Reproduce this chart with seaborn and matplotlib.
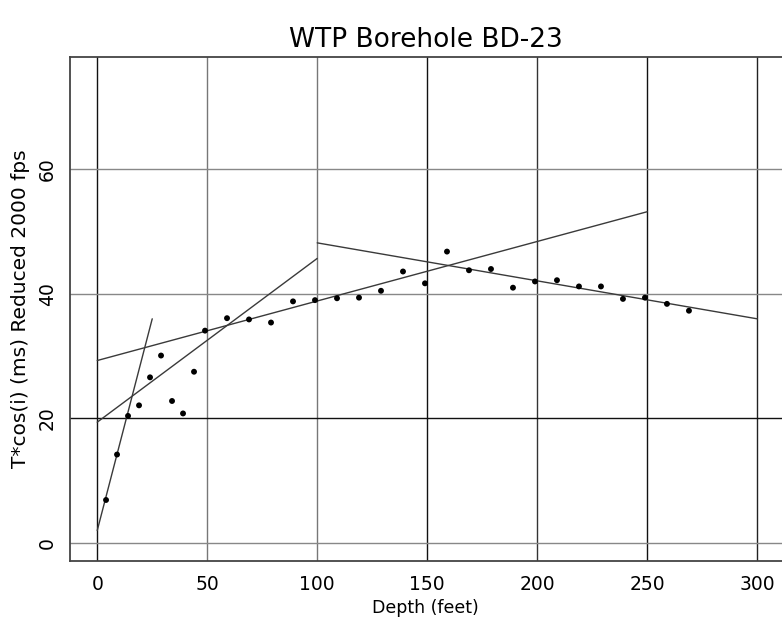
import matplotlib
matplotlib.use("Agg")
import matplotlib.pyplot as plt
import seaborn as sns
import pandas as pd

# Measured points: depth (feet) vs T*cos(i) reduced at 2000 fps (ms)
depth = [4, 9, 14, 19, 24, 29, 34, 39, 44, 49, 59, 69, 79, 89, 99,
         109, 119, 129, 139, 149, 159, 169, 179, 189, 199, 209, 219,
         229, 239, 249, 259, 269]
time_ms = [6.9, 14.2, 20.4, 22.1, 26.6, 30.1, 22.8, 20.8, 27.5, 34.1,
           36.1, 35.9, 35.4, 38.8, 39.0, 39.3, 39.4, 40.5, 43.6, 41.7,
           46.8, 43.8, 44.0, 41.0, 42.0, 42.2, 41.2, 41.2, 39.2, 39.4,
           38.4, 37.3]

# Fitted segments (start / end depth and time)
fit_names = ['layer 1', 'layer 2', 'layer 3', 'layer 4']
fit_x0 = [0, 0, 0, 100]
fit_x1 = [25, 100, 250, 300]
fit_y0 = [2.0, 19.4, 29.3, 48.2]
fit_y1 = [36.0, 45.7, 53.2, 36.0]

x_ticks = [0, 50, 100, 150, 200, 250, 300]
y_ticks = [0, 20, 40, 60]

sns.set_style("white")
plt.rcParams['font.family'] = ['DejaVu Sans']
plt.rcParams['text.color'] = 'black'
plt.rcParams['axes.labelcolor'] = 'black'

fig = plt.figure(figsize=(7.82, 6.28), dpi=100)
ax = fig.add_axes([0.0889, 0.1067, 0.9111, 0.803])

# grid lines (darkness varies as in the scanned original)
vcolors = ['#111111', '#777777', '#777777', '#111111', '#333333', '#111111', '#222222']
for xv, c in zip(x_ticks, vcolors):
    ax.axvline(xv, color=c, lw=1.0, zorder=0)
hcolors = ['#888888', '#111111', '#888888', '#888888']
for yv, c in zip(y_ticks, hcolors):
    ax.axhline(yv, color=c, lw=1.0, zorder=0)

rows = []
for n, a, b, c, d in zip(fit_names, fit_x0, fit_x1, fit_y0, fit_y1):
    rows.append({'seg': n, 'x': a, 'y': c})
    rows.append({'seg': n, 'x': b, 'y': d})
fits = pd.DataFrame(rows)
sns.lineplot(data=fits, x='x', y='y', units='seg', estimator=None,
             color='#3a3a3a', lw=1.0, ax=ax, zorder=2)

pts = pd.DataFrame({'depth': depth, 'time': time_ms})
sns.scatterplot(data=pts, x='depth', y='time', color='black', s=18,
                edgecolor='none', ax=ax, zorder=3)

ax.set_xlim(-12.6, 311.3)
ax.set_ylim(-2.9, 78.1)
ax.set_xticks(x_ticks)
ax.set_yticks(y_ticks)
ax.tick_params(length=0, labelsize=13.5, colors='black')
ax.tick_params(axis='x', pad=10)
ax.tick_params(axis='y', pad=9)
for lab in ax.get_yticklabels():
    lab.set_rotation(90)
    lab.set_va('center')

for side in ['left', 'top', 'bottom']:
    ax.spines[side].set_color('#444444')
    ax.spines[side].set_linewidth(1.3)
ax.spines['right'].set_visible(False)

ax.set_xlabel('Depth (feet)', fontsize=12.5, labelpad=4)
ax.set_ylabel("T*cos(i) (ms) Reduced 2000 fps", fontsize=14.5, labelpad=6)
fig.text(0.545, 1 - 47 / 628, 'WTP Borehole BD-23', ha='center', va='baseline', fontsize=19)

fig.savefig('out.png', dpi=100)
